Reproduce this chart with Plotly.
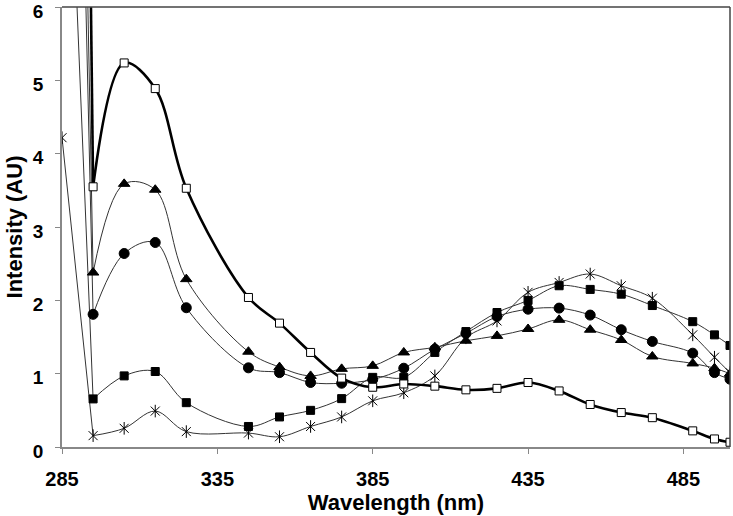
import plotly.graph_objects as go

wavelength = [285, 295, 305, 315, 325, 345, 355, 365, 375, 385, 395, 405, 415,
              425, 435, 445, 455, 465, 475, 488, 495, 500]

open_square = [39, 3.55, 5.24, 4.89, 3.53, 2.04, 1.69, 1.29, 0.94, 0.815, 0.86,
               0.83, 0.78, 0.80, 0.88, 0.765, 0.58, 0.47, 0.40, 0.22, 0.11, 0.065]
triangle = [24, 2.38, 3.59, 3.51, 2.29, 1.30, 1.09, 0.97, 1.066, 1.107, 1.29,
            1.36, 1.45, 1.516, 1.61, 1.735, 1.60, 1.46, 1.235, 1.14, 1.075, 1.0]
circle = [20, 1.81, 2.64, 2.79, 1.90, 1.08, 1.015, 0.88, 0.87, 0.92, 1.075,
          1.335, 1.55, 1.78, 1.88, 1.895, 1.80, 1.60, 1.44, 1.28, 1.015, 0.925]
filled_square = [11, 0.656, 0.97, 1.03, 0.605, 0.28, 0.41, 0.50, 0.66, 0.95, 0.95,
                 1.29, 1.575, 1.835, 2.0, 2.2, 2.15, 2.085, 1.93, 1.71, 1.53, 1.385]
star = [4.22, 0.155, 0.255, 0.49, 0.21, 0.19, 0.14, 0.28, 0.41, 0.63, 0.74,
        0.97, 1.49, 1.72, 2.11, 2.245, 2.36, 2.20, 2.03, 1.53, 1.225, 1.015]

x_ticks = [285, 335, 385, 435, 485]
y_ticks = [0, 1, 2, 3, 4, 5, 6]

FONT = "Liberation Sans, Arial, sans-serif"
THIN = "#333333"

fig = go.Figure()


def add_series(y, symbols, size, lw, lcolor, mfill):
    # first (steep, off-scale) segment drawn straight, the rest smoothed
    fig.add_trace(go.Scatter(
        x=wavelength[:2], y=y[:2], mode="lines",
        line=dict(shape="linear", width=lw, color=lcolor),
        showlegend=False, hoverinfo="skip",
    ))
    fig.add_trace(go.Scatter(
        x=wavelength[1:], y=y[1:], mode="lines",
        line=dict(shape="spline", smoothing=1, width=lw, color=lcolor),
        showlegend=False,
    ))
    for sym in symbols:
        fig.add_trace(go.Scatter(
            x=wavelength, y=y, mode="markers",
            marker=dict(symbol=sym, size=size, color=mfill,
                        line=dict(color="black", width=1)),
            showlegend=False,
        ))


add_series(star, ["x-thin-open", "line-ns-open"], 9, 1, THIN, "black")
add_series(filled_square, ["square"], 8, 1, THIN, "black")
add_series(circle, ["circle"], 10, 1, THIN, "black")
add_series(triangle, ["triangle-up"], 10, 1, THIN, "black")
add_series(open_square, ["square"], 8, 2.6, "black", "white")

fig.update_layout(
    width=733, height=516,
    margin=dict(l=62, r=3, t=7, b=69, autoexpand=False),
    paper_bgcolor="white", plot_bgcolor="white",
    font=dict(family=FONT, color="black"),
    shapes=[
        dict(type="line", xref="paper", yref="paper", x0=0, x1=1, y0=1, y1=1,
             line=dict(color="#444", width=1.5)),
        dict(type="line", xref="paper", yref="paper", x0=1, x1=1, y0=0, y1=1,
             line=dict(color="#444", width=1.5)),
    ],
)
fig.update_xaxes(
    range=[284.99, 500], tickvals=x_ticks, ticktext=[f"<b>{v}</b>" for v in x_ticks],
    automargin=False, ticklabeloverflow="allow",
    showgrid=False, zeroline=False, showline=True, linecolor="#888", linewidth=1.5,
    ticks="outside", ticklen=5, tickcolor="#888",
    tickfont=dict(size=20, family=FONT), ticklabelstandoff=8,
    title=dict(text="<b>Wavelength (nm)</b>", font=dict(size=22, family=FONT), standoff=2),
)
fig.update_yaxes(
    range=[0, 6.003], tickvals=y_ticks, ticktext=[f"<b>{v}</b>" for v in y_ticks],
    automargin=False, ticklabeloverflow="allow", ticklabelshift=4,
    showgrid=False, zeroline=False, showline=True, linecolor="#888", linewidth=1.5,
    ticks="outside", ticklen=5, tickcolor="#888",
    tickfont=dict(size=19, family=FONT), ticklabelstandoff=8,
    title=dict(text="<b>Intensity (AU)</b>", font=dict(size=22, family=FONT), standoff=4),
)

fig.write_html("out.html", config={"displayModeBar": False},
               post_script="document.body.style.margin='0px';")
